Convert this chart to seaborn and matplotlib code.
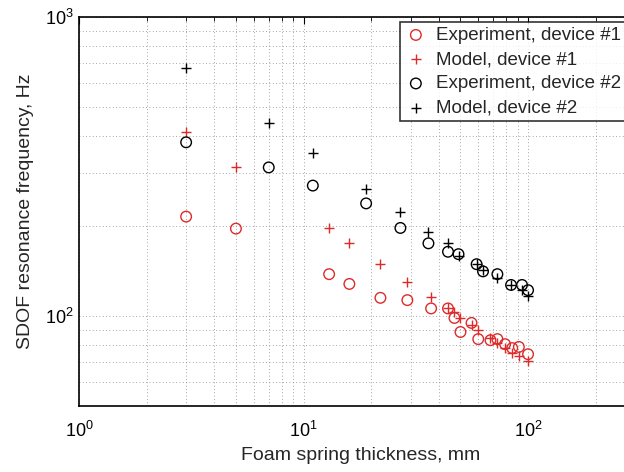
import matplotlib; matplotlib.use("Agg")
import matplotlib.pyplot as plt
import numpy as np
import pandas as pd
import seaborn as sns

# foam thickness (mm) and SDOF resonance frequency (Hz)
exp1_x = [3, 5, 13, 16, 22, 29, 37, 44, 47, 50, 56, 60, 68, 73, 79, 85, 91, 100]
exp1_y = [215, 196, 138, 128, 115, 113, 106, 106, 98.5, 88.4, 94.8, 83.7, 83.0, 83.7, 80.5, 78.1, 78.8, 74.5]
mod1_x = [3, 5, 13, 16, 22, 29, 37, 44, 47, 50, 56, 60, 68, 73, 79, 85, 91, 100]
mod1_y = [411, 316, 197, 176, 149, 130, 116, 106, 103, 98.5, 93.3, 89.8, 84.4, 81.1, 78.1, 75.1, 73.4, 70.6]
exp2_x = [3, 7, 11, 19, 27, 36, 44, 49, 59, 63, 73, 84, 94, 100]
exp2_y = [381, 314, 273, 238, 197, 175, 164, 161, 149, 141, 138, 127, 127, 122]
mod2_x = [3, 7, 11, 19, 27, 36, 44, 49, 59, 63, 73, 84, 94, 100]
mod2_y = [675, 441, 350, 265, 222, 191, 175, 159, 149, 142, 134, 127, 122, 117]

labels = ["Experiment, device #1", "Model, device #1",
          "Experiment, device #2", "Model, device #2"]
RED, BLACK = "#dd2a2a", "#000000"

sns.set_theme(style="white")
plt.rcParams.update({"font.family": ["Liberation Sans", "DejaVu Sans"],
                     "mathtext.fontset": "custom", "mathtext.rm": "Liberation Sans",
                     "xtick.direction": "in", "ytick.direction": "in"})

fig = plt.figure(figsize=(6.24, 4.72), dpi=100)
# axes runs past the right edge like the cropped original
ax = fig.add_axes([79/624, 1-406/472, 564/624, 389/472])

sns.scatterplot(x=exp1_x, y=exp1_y, ax=ax, marker="o", s=58, facecolors="none",
                edgecolor=RED, linewidth=1.0, label=labels[0])
sns.scatterplot(x=mod1_x, y=mod1_y, ax=ax, marker="+", s=60, color=RED,
                linewidth=1.0, label=labels[1])
sns.scatterplot(x=exp2_x, y=exp2_y, ax=ax, marker="o", s=58, facecolors="none",
                edgecolor=BLACK, linewidth=1.0, label=labels[2])
sns.scatterplot(x=mod2_x, y=mod2_y, ax=ax, marker="+", s=60, color=BLACK,
                linewidth=1.0, label=labels[3])

ax.set_xscale("log"); ax.set_yscale("log")
ax.set_xlim(1, 325); ax.set_ylim(50, 1000)
ax.grid(True, which="both", linestyle=(0, (1, 3)), color="#888888", linewidth=0.6)
ax.tick_params(which="both", top=True, right=True, colors="black", labelsize=13)
ax.tick_params(which="major", length=5, width=0.8)
ax.tick_params(axis="x", which="major", pad=11)
ax.tick_params(axis="y", which="major", pad=4)
ax.tick_params(which="minor", length=3, width=0.6)
for s in ax.spines.values():
    s.set_color("black"); s.set_linewidth(1.2)

ax.set_xlabel("Foam spring thickness, mm", fontsize=14, labelpad=4)
ax.set_ylabel("SDOF resonance frequency, Hz", fontsize=14, labelpad=8)

leg = ax.legend(loc="upper left", bbox_to_anchor=(0.569, 0.987), fontsize=13.5,
                frameon=True, fancybox=False, borderpad=0.25, handlelength=1.2,
                handletextpad=0.5, labelspacing=0.38, borderaxespad=0)
leg.get_frame().set_edgecolor("black"); leg.get_frame().set_linewidth(1.2)

fig.savefig("out.png", dpi=100, facecolor="white")
